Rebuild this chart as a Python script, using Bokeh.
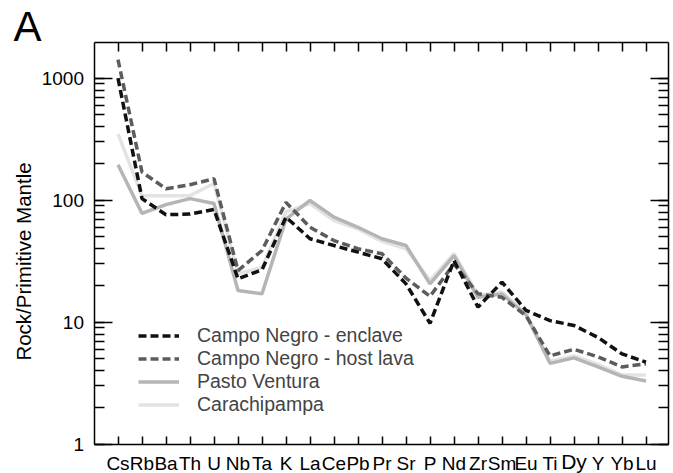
import math
from bokeh.plotting import figure
from bokeh.models import (Range1d, FixedTicker, LogAxis, LinearAxis, Legend,
                          LegendItem, Label, LogTicker, NumeralTickFormatter,
                          CustomJSTickFormatter)
from bokeh.embed import file_html
from bokeh.resources import INLINE

elements = ["Cs", "Rb", "Ba", "Th", "U", "Nb", "Ta", "K", "La", "Ce", "Pb", "Pr",
            "Sr", "P", "Nd", "Zr", "Sm", "Eu", "Ti", "Dy", "Y", "Yb", "Lu"]

enclave = [1000, 103, 76, 77, 84, 22.7, 26.9, 72.6, 48.3, 42.5, 37.5, 33.1,
           20.6, 9.8, 32, 13.3, 21.3, 12.5, 10.3, 9.4, 7.5, 5.5, 4.7]
host_lava = [1420, 170, 124, 134, 150, 26.5, 38.7, 96, 60, 46.7, 40, 36.4,
             23, 16.3, 30, 17.1, 16, 11.3, 5.3, 6.0, 5.2, 4.3, 4.56]
pasto_ventura = [195, 78, 92, 103, 94, 18.2, 17.1, 70, 99.5, 72.6, 60, 48.3,
                 42.5, 20.6, 35.2, 16, 17, 11.5, 4.6, 5.1, 4.3, 3.6, 3.3]
carachipampa = [350, 109, 109, 109, 137, 25, 28, 80, 94, 68, 58, 46,
                40, 22, 36.4, 16.6, 17.6, 11.7, 4.8, 5.3, 4.5, 3.7, 3.7]

series_labels = ["Campo Negro - enclave", "Campo Negro - host lava",
                 "Pasto Ventura", "Carachipampa"]

FONT = "Liberation Sans"
x = list(range(len(elements)))

# plot box (data limits)
X0, X1 = -1, 22.95
Y0, Y1 = 1, 1975

# canvas 673x473; box spans px 93.5..668 horizontally (24 px / category),
# px 41.7..443.7 vertically (122 px / decade)
W, H = 673, 473
PX_PER_X = 24.0
PX_PER_DEC = 122.0
BOX_LEFT, BOX_BOTTOM = 93.5, 443.7
xr = Range1d(X0 - BOX_LEFT / PX_PER_X, X0 + (W - BOX_LEFT) / PX_PER_X)
yr = Range1d(10 ** (-(H - BOX_BOTTOM) / PX_PER_DEC), 10 ** (BOX_BOTTOM / PX_PER_DEC))


def y_at(py):
    # data y for a canvas pixel row
    return 10 ** ((BOX_BOTTOM - py) / PX_PER_DEC)


def x_at(px):
    return X0 + (px - BOX_LEFT) / PX_PER_X


p = figure(width=W, height=H, x_range=xr, y_range=yr, y_axis_type="log",
           output_backend="svg", toolbar_location=None,
           min_border_left=0, min_border_right=0, min_border_top=0,
           min_border_bottom=0)
p.outline_line_color = None
p.grid.visible = False
p.background_fill_color = "white"
p.border_fill_color = "white"

blank = CustomJSTickFormatter(code="return '';")

# bottom axis
xa = p.xaxis[0]
xa.fixed_location = Y0
xa.bounds = (X0, X1)
xa.ticker = FixedTicker(ticks=x, minor_ticks=[])
overrides = {i: name for i, name in enumerate(elements)}
overrides[elements.index("Dy")] = " "
xa.major_label_overrides = overrides
xa.major_tick_in = 8
xa.major_tick_out = 0
xa.axis_line_width = 1.5
xa.major_tick_line_width = 1.5
xa.axis_line_color = "black"
xa.major_label_text_font_size = "19px"
xa.major_label_text_font = FONT
xa.major_label_text_color = "black"
xa.major_label_standoff = 9

# left axis
ya = p.yaxis[0]
ya.fixed_location = X0
ya.bounds = (Y0, Y1)
ya.ticker = LogTicker(num_minor_ticks=10)
ya.formatter = NumeralTickFormatter(format="0")
ya.major_tick_in = 18
ya.major_tick_out = 0
ya.minor_tick_in = 10
ya.minor_tick_out = 0
ya.axis_line_width = 1.5
ya.major_tick_line_width = 1.5
ya.minor_tick_line_width = 1.5
ya.major_label_text_font_size = "19px"
ya.major_label_text_font = FONT
ya.major_label_text_color = "black"
ya.major_label_standoff = 10

# top axis (ticks only)
ta = LinearAxis(ticker=FixedTicker(ticks=x, minor_ticks=[]), formatter=blank,
                fixed_location=Y1, bounds=(X0, X1),
                major_tick_in=9, major_tick_out=0, axis_line_width=1.5,
                major_tick_line_width=1.5, major_label_standoff=0)
p.add_layout(ta, "above")

# right axis (ticks only)
ra = LogAxis(ticker=LogTicker(num_minor_ticks=10), formatter=blank,
             fixed_location=X1, bounds=(Y0, Y1),
             major_tick_in=18, major_tick_out=0, minor_tick_in=10,
             minor_tick_out=0, axis_line_width=1.5, major_tick_line_width=1.5,
             minor_tick_line_width=1.5, major_label_standoff=0)
p.add_layout(ra, "right")

r_car = p.line(x, carachipampa, line_color="#e3e3e3", line_width=3.5)
r_pas = p.line(x, pasto_ventura, line_color="#b5b5b5", line_width=3.5)
r_host = p.line(x, host_lava, line_color="#5c5c5c", line_width=3.5, line_dash="8 4")
r_enc = p.line(x, enclave, line_color="#111111", line_width=3.5, line_dash="8 4")

legend = Legend(items=[LegendItem(label=series_labels[0], renderers=[r_enc]),
                       LegendItem(label=series_labels[1], renderers=[r_host]),
                       LegendItem(label=series_labels[2], renderers=[r_pas]),
                       LegendItem(label=series_labels[3], renderers=[r_car])],
                location=(138, 57), border_line_color=None,
                background_fill_alpha=0, padding=0, margin=0, spacing=0,
                glyph_width=41, glyph_height=21, label_height=21,
                label_standoff=18, label_text_font_size="19.5px",
                label_text_line_height=1.0,
                label_text_font=FONT)
p.add_layout(legend)

p.add_layout(Label(x=x_at(23), y=y_at(261), text="Rock/Primitive Mantle",
                   angle=math.pi / 2, text_align="center", text_baseline="middle",
                   text_font_size="20.5px", text_font=FONT, text_color="black"))
p.add_layout(Label(x=x_at(13), y=y_at(25.7), text="A",
                   text_align="left", text_baseline="alphabetic",
                   text_font_size="42px", text_font=FONT, text_color="black"))
p.add_layout(Label(x=elements.index("Dy"), y=y_at(461.4), text="Dy",
                   text_align="center", text_baseline="alphabetic",
                   text_font_size="21px", text_font=FONT, text_color="black"))

open("out.html", "w").write(file_html(p, INLINE))
